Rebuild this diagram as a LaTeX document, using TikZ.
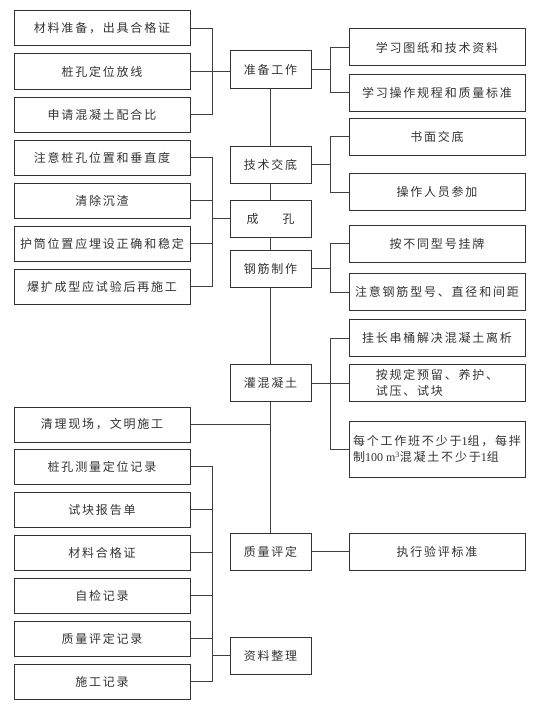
\documentclass[tikz,border=0pt]{standalone}
\usepackage{fontspec}
\newfontfamily\cjk[LetterSpace=15]{Noto Sans CJK SC}
\newfontfamily\latf{Liberation Serif}
\newcommand\latn[1]{{\latf #1}}
\begin{document}
\begin{tikzpicture}[x=1pt,y=-1pt,
  box/.style={draw=black!80, line width=1pt, fill=white, inner sep=0pt, align=center,
    font=\cjk\fontsize{12}{16}\selectfont, text=black!80},
  lbox/.style={box, minimum width=176pt, minimum height=35pt},
  mbox/.style={box, minimum width=81pt, minimum height=37pt},
  rbox/.style={box, minimum width=176pt, minimum height=37pt},
  ln/.style={draw=black!75, line width=0.8pt}]
\useasboundingbox (0,0) rectangle (542,709);
% left column
\node[lbox] (L1) at (102,28.5) {材料准备，出具合格证};
\node[lbox] (L2) at (102,71.5) {桩孔定位放线};
\node[lbox] (L3) at (102,114.5) {申请混凝土配合比};
\node[lbox] (L4) at (102,157.5) {注意桩孔位置和垂直度};
\node[lbox] (L5) at (102,200.5) {清除沉渣};
\node[lbox] (L6) at (102,243.5) {护筒位置应埋设正确和稳定};
\node[lbox] (L7) at (102,286.5) {爆扩成型应试验后再施工};
\node[lbox] (L8) at (102,424.5) {清理现场，文明施工};
\node[lbox] (L9) at (102,466.5) {桩孔测量定位记录};
\node[lbox] (L10) at (102,509.5) {试块报告单};
\node[lbox] (L11) at (102,552.5) {材料合格证};
\node[lbox] (L12) at (102,595.5) {自检记录};
\node[lbox] (L13) at (102,638.5) {质量评定记录};
\node[lbox] (L14) at (102,681.5) {施工记录};
% middle column
\node[mbox] (M1) at (270.5,69.5) {准备工作};
\node[mbox] (M2) at (270.5,164.5) {技术交底};
\node[mbox] (M3) at (270.5,218.5) {成\hspace{24pt}孔};
\node[mbox] (M4) at (270.5,268.5) {钢筋制作};
\node[mbox] (M5) at (270.5,383) {灌混凝土};
\node[mbox] (M6) at (270.5,551.5) {质量评定};
\node[mbox] (M7) at (270.5,655.5) {资料整理};
% right column
\node[rbox] (R1) at (437,47.5) {学习图纸和技术资料};
\node[rbox] (R2) at (437,92.5) {学习操作规程和质量标准};
\node[rbox] (R3) at (437,136.5) {书面交底};
\node[rbox] (R4) at (437,192) {操作人员参加};
\node[rbox] (R5) at (437,243.5) {按不同型号挂牌};
\node[rbox] (R6) at (437,292) {注意钢筋型号、直径和间距};
\node[rbox] (R7) at (437,338) {挂长串桶解决混凝土离析};
\node[rbox, align=left] (R8) at (437,383) {按规定预留、养护、\\试压、试块};
\node[rbox, align=left, minimum height=56pt] (R9) at (437,449) {每个工作班不少于\latn{1}组，每拌\\制\latn{100 m\textsuperscript{3}}混凝土不少于\latn{1}组};
\node[rbox] (R10) at (437,551.5) {执行验评标准};
% bus coordinates
\coordinate (bl) at (212,0);
\coordinate (br) at (330,0);
% left group 1
\draw[ln] (L1.east) -- (L1.east -| bl) -- (L3.east -| bl) -- (L3.east);
\draw[ln] (L2.east) -- (L2.east -| M1.west);
% left group 2
\draw[ln] (L4.east) -- (L4.east -| bl) -- (L7.east -| bl) -- (L7.east);
\draw[ln] (L5.east) -- (L5.east -| bl);
\draw[ln] (L6.east) -- (L6.east -| bl);
\draw[ln] (M3.west -| bl) -- (M3.west);
% left group 3
\draw[ln] (L9.east) -- (L9.east -| bl) -- (L14.east -| bl) -- (L14.east);
\foreach \n in {L10,L11,L12,L13} \draw[ln] (\n.east) -- (\n.east -| bl);
\draw[ln] (M7.west -| bl) -- (M7.west);
% spine
\draw[ln] (M1.south) -- (M2.north);
\draw[ln] (M2.south) -- (M3.north);
\draw[ln] (M3.south) -- (M4.north);
\draw[ln] (M4.south) -- (M5.north);
\draw[ln] (M5.south) -- (M6.north);
\draw[ln] (L8.east) -- (L8.east -| M5.south);
% right groups
\draw[ln] (M1.east) -- (M1.east -| br);
\draw[ln] (R1.west) -- (R1.west -| br) -- (R2.west -| br) -- (R2.west);
\draw[ln] (M2.east) -- (M2.east -| br);
\draw[ln] (R3.west) -- (R3.west -| br) -- (R4.west -| br) -- (R4.west);
\draw[ln] (M4.east) -- (M4.east -| br);
\draw[ln] (R5.west) -- (R5.west -| br) -- (R6.west -| br) -- (R6.west);
\draw[ln] (M5.east) -- (R8.west);
\draw[ln] (R7.west) -- (R7.west -| br) -- (R9.west -| br) -- (R9.west);
\draw[ln] (M6.east) -- (R10.west);
\end{tikzpicture}
\end{document}
